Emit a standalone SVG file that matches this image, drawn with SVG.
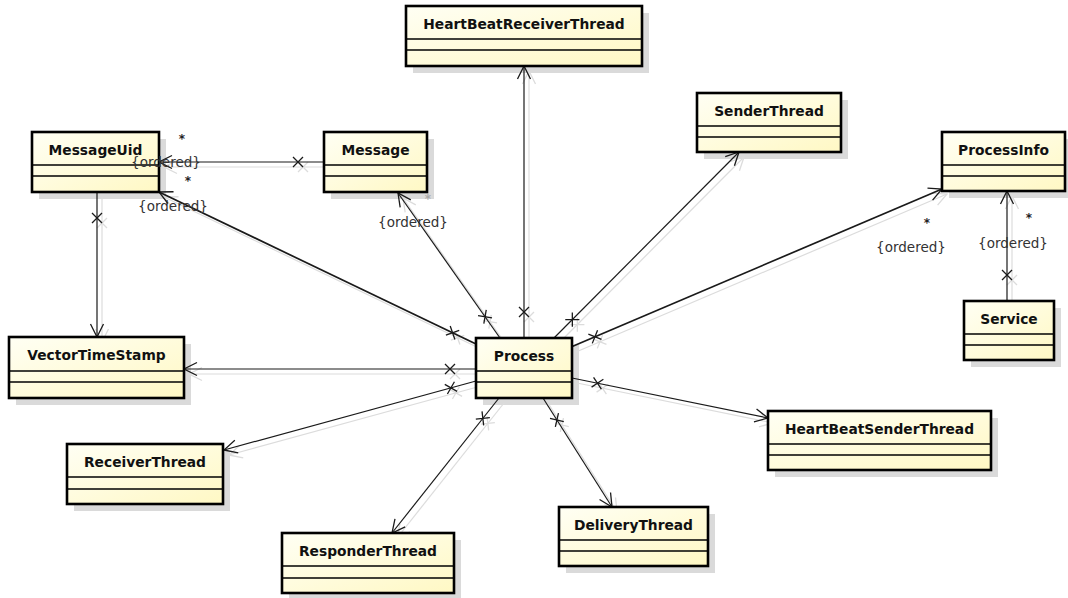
<svg xmlns="http://www.w3.org/2000/svg" width="1068" height="598" viewBox="0 0 1068 598">
<style>
.nshadow{fill:#dadada;stroke:none}
.box{fill:url(#fillg);stroke:#000;stroke-width:2.6}
.sep{stroke:#000;stroke-width:1.4}
.name{font-family:"DejaVu Sans",Verdana,sans-serif;font-weight:bold;font-size:13.8px;fill:#111;text-anchor:middle}
.lbl{font-family:"DejaVu Sans",Verdana,sans-serif;font-size:13.5px;fill:#333;text-anchor:middle}
.star{font-family:"DejaVu Sans",Verdana,sans-serif;font-size:12px;font-weight:bold;fill:#222;text-anchor:middle}
.c{fill:none;stroke:#1a1a1a;stroke-width:1.2;marker-start:url(#xm);marker-end:url(#am)}
.cs{fill:none;stroke:#dcdcdc;stroke-width:1.2;marker-start:url(#xs);marker-end:url(#as)}
.thick{stroke-width:1.7}
</style>
<defs>
<linearGradient id="fillg" x1="0" y1="0" x2="1" y2="1">
<stop offset="0" stop-color="#fffff4"/>
<stop offset="1" stop-color="#fff8c4"/>
</linearGradient>
<marker id="am" markerUnits="userSpaceOnUse" orient="auto" refX="0" refY="0" markerWidth="30" markerHeight="30" overflow="visible">
<path d="M-13,-6.5 L0,0 L-13,6.5" fill="none" stroke="#1a1a1a" stroke-width="1.3"/>
</marker>
<marker id="xm" markerUnits="userSpaceOnUse" orient="auto" refX="0" refY="0" markerWidth="30" markerHeight="30" overflow="visible">
<path d="M21,-5 L31,5 M21,5 L31,-5" fill="none" stroke="#1a1a1a" stroke-width="1.3"/>
</marker>
<marker id="as" markerUnits="userSpaceOnUse" orient="auto" refX="0" refY="0" markerWidth="30" markerHeight="30" overflow="visible">
<path d="M-13,-6.5 L0,0 L-13,6.5" fill="none" stroke="#dcdcdc" stroke-width="1.3"/>
</marker>
<marker id="xs" markerUnits="userSpaceOnUse" orient="auto" refX="0" refY="0" markerWidth="30" markerHeight="30" overflow="visible">
<path d="M21,-5 L31,5 M21,5 L31,-5" fill="none" stroke="#dcdcdc" stroke-width="1.3"/>
</marker>
</defs>
<rect width="1068" height="598" fill="#fff"/>

<g id="node-shadows">
<rect class="nshadow" x="413" y="13" width="236" height="60"/>
<rect class="nshadow" x="39" y="139" width="127" height="60"/>
<rect class="nshadow" x="331" y="139" width="103" height="60"/>
<rect class="nshadow" x="704" y="100" width="144" height="59"/>
<rect class="nshadow" x="949" y="139" width="123" height="59"/>
<rect class="nshadow" x="971" y="308" width="90" height="59"/>
<rect class="nshadow" x="16" y="344" width="175" height="61"/>
<rect class="nshadow" x="483" y="345" width="96" height="60"/>
<rect class="nshadow" x="74" y="451" width="156" height="60"/>
<rect class="nshadow" x="289" y="540" width="172" height="60"/>
<rect class="nshadow" x="566" y="514" width="149" height="59"/>
<rect class="nshadow" x="775" y="418" width="223" height="59"/>
</g>

<g id="connectors">
<g id="connector-shadows" transform="translate(5,5)">
<path class="cs" d="M324,162 L159,162"/>
<path class="cs" d="M476,344 L159,192"/>
<path class="cs" d="M500,338 L398,193"/>
<path class="cs" d="M524,338 L524,66"/>
<path class="cs" d="M554,338 L739,152"/>
<path class="cs" d="M571,347 L942,189"/>
<path class="cs" d="M1007,301 L1007,191"/>
<path class="cs" d="M97,192 L97,337"/>
<path class="cs" d="M476,369 L184,369"/>
<path class="cs" d="M476,381 L224,450"/>
<path class="cs" d="M499,398 L392,533"/>
<path class="cs" d="M543,398 L612,507"/>
<path class="cs" d="M572,378 L768,418"/>
</g>
<path id="e-message-messageuid" class="c" d="M324,162 L159,162"/>
<path id="e-process-messageuid" class="c thick" d="M476,344 L159,192"/>
<path id="e-process-message" class="c" d="M500,338 L398,193"/>
<path id="e-process-hbrt" class="c" d="M524,338 L524,66"/>
<path id="e-process-sender" class="c" d="M554,338 L739,152"/>
<path id="e-process-processinfo" class="c thick" d="M571,347 L942,189"/>
<path id="e-service-processinfo" class="c" d="M1007,301 L1007,191"/>
<path id="e-messageuid-vts" class="c" d="M97,192 L97,337"/>
<path id="e-process-vts" class="c" d="M476,369 L184,369"/>
<path id="e-process-receiver" class="c" d="M476,381 L224,450"/>
<path id="e-process-responder" class="c" d="M499,398 L392,533"/>
<path id="e-process-delivery" class="c" d="M543,398 L612,507"/>
<path id="e-process-hbst" class="c" d="M572,378 L768,418"/>
</g>

<g id="node-HeartBeatReceiverThread">
<rect class="box" x="406" y="6" width="236" height="60"/>
<line class="sep" x1="406" y1="39" x2="642" y2="39"/><line class="sep" x1="406" y1="50" x2="642" y2="50"/>
<text class="name" x="524" y="29">HeartBeatReceiverThread</text>
</g>
<g id="node-MessageUid">
<rect class="box" x="32" y="132" width="127" height="60"/>
<line class="sep" x1="32" y1="165" x2="159" y2="165"/><line class="sep" x1="32" y1="176" x2="159" y2="176"/>
<text class="name" x="95.5" y="155">MessageUid</text>
</g>
<g id="node-Message">
<rect class="box" x="324" y="132" width="103" height="60"/>
<line class="sep" x1="324" y1="165" x2="427" y2="165"/><line class="sep" x1="324" y1="176" x2="427" y2="176"/>
<text class="name" x="375.5" y="155">Message</text>
</g>
<g id="node-SenderThread">
<rect class="box" x="697" y="93" width="144" height="59"/>
<line class="sep" x1="697" y1="126" x2="841" y2="126"/><line class="sep" x1="697" y1="137" x2="841" y2="137"/>
<text class="name" x="769" y="116">SenderThread</text>
</g>
<g id="node-ProcessInfo">
<rect class="box" x="942" y="132" width="123" height="59"/>
<line class="sep" x1="942" y1="165" x2="1065" y2="165"/><line class="sep" x1="942" y1="176" x2="1065" y2="176"/>
<text class="name" x="1003.5" y="155">ProcessInfo</text>
</g>
<g id="node-Service">
<rect class="box" x="964" y="301" width="90" height="59"/>
<line class="sep" x1="964" y1="334" x2="1054" y2="334"/><line class="sep" x1="964" y1="345" x2="1054" y2="345"/>
<text class="name" x="1009" y="324">Service</text>
</g>
<g id="node-VectorTimeStamp">
<rect class="box" x="9" y="337" width="175" height="61"/>
<line class="sep" x1="9" y1="371" x2="184" y2="371"/><line class="sep" x1="9" y1="382" x2="184" y2="382"/>
<text class="name" x="96.5" y="360">VectorTimeStamp</text>
</g>
<g id="node-Process">
<rect class="box" x="476" y="338" width="96" height="60"/>
<line class="sep" x1="476" y1="371" x2="572" y2="371"/><line class="sep" x1="476" y1="382" x2="572" y2="382"/>
<text class="name" x="524" y="361">Process</text>
</g>
<g id="node-ReceiverThread">
<rect class="box" x="67" y="444" width="156" height="60"/>
<line class="sep" x1="67" y1="477" x2="223" y2="477"/><line class="sep" x1="67" y1="489" x2="223" y2="489"/>
<text class="name" x="145" y="467">ReceiverThread</text>
</g>
<g id="node-ResponderThread">
<rect class="box" x="282" y="533" width="172" height="60"/>
<line class="sep" x1="282" y1="566" x2="454" y2="566"/><line class="sep" x1="282" y1="578" x2="454" y2="578"/>
<text class="name" x="368" y="556">ResponderThread</text>
</g>
<g id="node-DeliveryThread">
<rect class="box" x="559" y="507" width="149" height="59"/>
<line class="sep" x1="559" y1="540" x2="708" y2="540"/><line class="sep" x1="559" y1="551" x2="708" y2="551"/>
<text class="name" x="633.5" y="530">DeliveryThread</text>
</g>
<g id="node-HeartBeatSenderThread">
<rect class="box" x="768" y="411" width="223" height="59"/>
<line class="sep" x1="768" y1="444" x2="991" y2="444"/><line class="sep" x1="768" y1="455" x2="991" y2="455"/>
<text class="name" x="879.5" y="434">HeartBeatSenderThread</text>
</g>

<g id="connector-labels">
<text class="lbl" x="166" y="167">{ordered}</text>
<text class="star" x="182" y="143">*</text>
<text class="lbl" x="173" y="211">{ordered}</text>
<text class="star" x="188" y="185">*</text>
<text class="lbl" x="413" y="227">{ordered}</text>
<text class="star" x="428" y="203" style="fill:#aaa">*</text>
<text class="lbl" x="911" y="252">{ordered}</text>
<text class="star" x="927" y="227">*</text>
<text class="lbl" x="1013" y="248">{ordered}</text>
<text class="star" x="1029" y="222">*</text>
</g>
</svg>
